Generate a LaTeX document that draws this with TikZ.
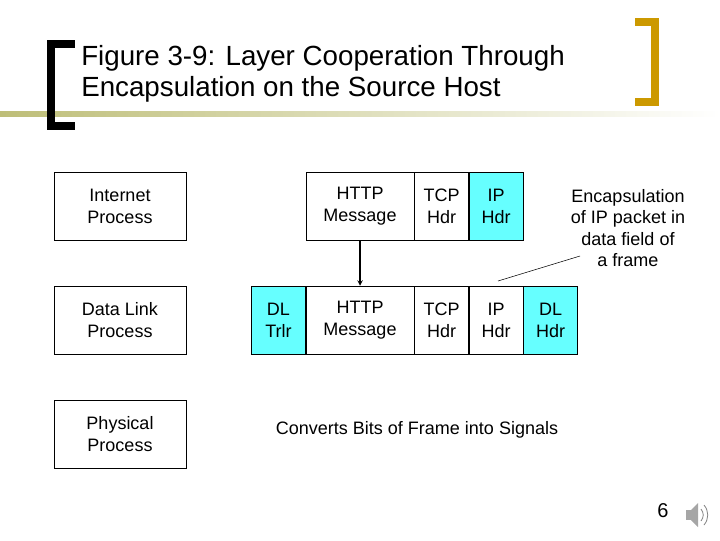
\documentclass[tikz,border=0pt]{standalone}
\usepackage{fontspec}
\setmainfont{Liberation Sans}
\usetikzlibrary{positioning}
\definecolor{hdrcyan}{RGB}{102,255,255}
\definecolor{gold}{RGB}{204,153,0}
\definecolor{olive}{RGB}{190,190,120}
\begin{document}
\begin{tikzpicture}[x=0.75pt,y=-0.75pt,
  box/.style = {draw, minimum height=51pt, align=center, font=\fontsize{13.5}{16.5}\selectfont, inner sep=0pt,
    execute at begin node={\rule{0pt}{3pt}\\[-1pt]}},
  layer/.style = {box, minimum width=99pt},
  wide/.style = {box, minimum width=81pt},
  narrow/.style = {box, minimum width=40.5pt},
  hdr/.style = {fill=hdrcyan},
  arrow/.style = {thick,-stealth}]
  \useasboundingbox (0,0) rectangle (720,540);

  % Title
  \shade[left color=olive, right color=white] (0,111) rectangle (720,116);
  \fill (47,40) rectangle (55,130);
  \fill (47,40) rectangle (75,48);
  \fill (47,122) rectangle (75,130);
  \fill[gold] (651,18) rectangle (659,106);
  \fill[gold] (635,18) rectangle (659,26);
  \fill[gold] (635,98) rectangle (659,106);
  \node[anchor=west, align=left, font=\fontsize{20.8}{23.5}\selectfont, inner sep=0pt] (title) at (81,74)
    {Figure 3-9: Layer Cooperation Through\\Encapsulation on the Source Host};

  % Layers
  \node[layer] (internet) at (120,206) {Internet\\Process};
  \node[layer] (datalink) at (120,320) {Data Link\\Process};
  \node[layer] (physical) at (120,434) {Physical\\Process};

  % Packet
  \node[wide] (http1) at (360,206) {HTTP\\Message};
  \node[narrow, right=0pt of http1] (tcp1) {TCP\\Hdr};
  \node[narrow, hdr, right=0pt of tcp1] (ip1) {IP\\Hdr};

  % Frame
  \node[wide] (http2) at (360,320) {HTTP\\Message};
  \node[narrow, hdr, left=0pt of http2] (trlr) {DL\\Trlr};
  \node[narrow, right=0pt of http2] (tcp2) {TCP\\Hdr};
  \node[narrow, right=0pt of tcp2] (ip2) {IP\\Hdr};
  \node[narrow, hdr, right=0pt of ip2] (dlhdr) {DL\\Hdr};

  \draw[arrow] (http1) -- (http2);

  % Notes
  \node[align=center, font=\fontsize{13.5}{16.2}\selectfont] (encap) at (628,228)
    {Encapsulation\\of IP packet in\\data field of\\a frame};
  \coordinate (encapend) at (498,281);
  \draw (encapend) -- (580,256);
  \node[font=\fontsize{13.5}{16}\selectfont] (signals) at (417,430) {Converts Bits of Frame into Signals};

  % Page number and speaker
  \node[font=\fontsize{15}{18}\selectfont] (page) at (663,511) {6};
  \fill[gray!70] (686,510) rectangle (691,520);
  \fill[gray!70] (691,510) -- (698,503) -- (698,527) -- (691,520) -- cycle;
  \draw[gray, line width=0.6pt] (701,509) .. controls (704,513) and (704,517) .. (701,521);
  \draw[gray, line width=0.6pt] (704,505) .. controls (709,511) and (709,519) .. (704,525);
\end{tikzpicture}
\end{document}
